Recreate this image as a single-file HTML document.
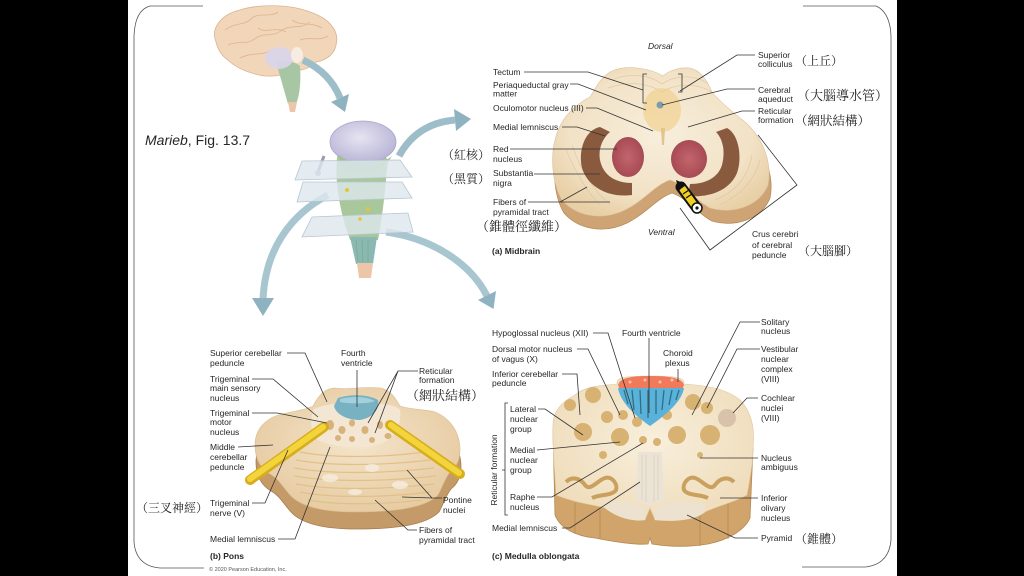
<!DOCTYPE html>
<html><head><meta charset="utf-8">
<style>
html,body{margin:0;padding:0;background:#000;}
svg{display:block;}
.l{font-family:"Liberation Sans",Arial,sans-serif;font-size:8.5px;fill:#262626;}
.b{font-weight:bold;}
.i{font-style:italic;}
.c{font-family:"Liberation Serif","Noto Serif CJK SC","Noto Sans CJK TC",serif;fill:#222;}
.ld{fill:none;stroke:#333;stroke-width:0.8;}
</style></head>
<body>
<svg width="1024" height="576" viewBox="0 0 1024 576" xmlns="http://www.w3.org/2000/svg">
<defs>
<radialGradient id="mb" cx="50%" cy="45%" r="60%"><stop offset="0" stop-color="#f7eedc"/><stop offset="0.7" stop-color="#f2e2c6"/><stop offset="1" stop-color="#e8cfa6"/></radialGradient>
<radialGradient id="pn" cx="50%" cy="45%" r="60%"><stop offset="0" stop-color="#f4e4ca"/><stop offset="1" stop-color="#e6caa0"/></radialGradient>
<radialGradient id="md" cx="50%" cy="45%" r="60%"><stop offset="0" stop-color="#f8efdc"/><stop offset="1" stop-color="#efdcba"/></radialGradient>
<radialGradient id="rn" cx="50%" cy="50%" r="50%"><stop offset="0" stop-color="#c4656c"/><stop offset="1" stop-color="#a64a54"/></radialGradient>
<radialGradient id="th" cx="45%" cy="40%" r="60%"><stop offset="0" stop-color="#e6e4f2"/><stop offset="1" stop-color="#b9b5d6"/></radialGradient>
</defs>
<rect width="1024" height="576" fill="#000"/>
<rect x="128" y="0" width="769" height="576" fill="#fff"/>

<!-- frame -->
<path class="ld" style="stroke:#555" d="M203,6 L150,6 Q135,10 134,36 L134,542 Q136,566 160,568 L204,568"/>
<path class="ld" style="stroke:#555" d="M803,6 L876,6 Q890,12 891,36 L891,540 Q889,564 866,567 L802,567"/>

<!-- top-left brain -->
<path d="M216,42 C210,28 222,14 240,10 C258,4 290,4 310,12 C328,18 340,30 336,45 C334,55 326,60 316,62 C310,68 300,72 292,70 C285,76 268,78 255,74 C240,70 232,64 228,60 C222,56 218,50 216,42 Z" fill="#f1d6b9" stroke="#dcb38e" stroke-width="0.8"/>
<g fill="none" stroke="#dfb48e" stroke-width="0.8">
<path d="M225,30 C235,22 245,26 252,18 C260,12 270,18 278,12"/>
<path d="M228,45 C238,40 246,46 256,38 C264,32 272,38 282,30 C292,24 300,30 310,22"/>
<path d="M240,58 C252,52 262,56 272,50"/>
<path d="M300,40 C310,36 318,42 328,36"/>
<path d="M292,20 C300,26 312,22 322,28"/>
<path d="M258,28 C266,34 276,26 286,32"/>
</g>
<path d="M276,62 C285,60 296,62 300,66 C301,80 300,95 296,104 L288,104 C284,90 280,76 276,62 Z" fill="#a9c6a4"/>
<path d="M288,102 L297,102 L295,112 L290,112 Z" fill="#ecc6aa"/>
<ellipse cx="279" cy="58" rx="14" ry="11" fill="#d9d5ec" opacity="0.9"/>
<ellipse cx="297" cy="55" rx="6" ry="8" fill="#f6ece2"/>

<!-- arrows -->
<g fill="none" stroke="#9dbdc9" stroke-width="7">
<path d="M303,60 C320,68 333,80 340,98"/>
<path d="M399,156 C412,132 432,122 455,120"/>
<path d="M328,195 C290,215 265,250 263,300" stroke="#a8c6d0"/>
<path d="M386,232 C430,238 470,262 487,296" stroke="#a8c6d0"/>
</g>
<g fill="#8fb2c0">
<polygon points="345,112 331,102 349,94"/>
<polygon points="471,119 454,109 456,131"/>
<polygon points="263,316 252,298 274,298"/>
<polygon points="493.5,309 478,300 496,291"/>
</g>

<!-- brainstem illustration -->
<path d="M338,150 C334,175 338,200 345,225 L350,240 L378,240 C383,215 385,190 388,160 L380,150 Z" fill="#a8c89c"/>
<path d="M350,237 L377,237 L373,264 L356,264 Z" fill="#8ab8b2"/>
<path d="M357,263 L373,263 L371,278 L359,278 Z" fill="#edc6aa"/>
<g stroke="#7fa88a" stroke-width="0.7" fill="none"><path d="M356,240 L358,262 M362,240 L363,262 M368,240 L368,262"/></g>
<ellipse cx="363" cy="142" rx="33" ry="21" fill="url(#th)" stroke="#aaa6cc" stroke-width="0.8"/>
<path d="M340,155 C350,168 375,170 392,156 L388,162 C375,176 350,176 340,165 Z" fill="#9fc08f"/>
<rect x="344" y="163" width="30" height="10" fill="#a5c394"/>
<line x1="324" y1="156" x2="318" y2="172" stroke="#9a9aae" stroke-width="3"/>
<circle cx="318" cy="173" r="3" fill="#b0b0c0"/>
<polygon points="302,161 400,160 412,177 295,180" fill="#dde7ee" fill-opacity="0.8" stroke="#b6c6d0" stroke-width="0.8"/>
<polygon points="303,182 402,182 412,198 297,202" fill="#dde7ee" fill-opacity="0.8" stroke="#b6c6d0" stroke-width="0.8"/>
<polygon points="312,217 408,213 413,232 302,237" fill="#dde7ee" fill-opacity="0.8" stroke="#b6c6d0" stroke-width="0.8"/>
<g fill="#e8c23a"><circle cx="347" cy="190" r="2"/><circle cx="368" cy="209" r="2"/><circle cx="360" cy="219" r="1.8"/></g>

<text class="l" x="145" y="145" style="font-size:14px">
<tspan class="i">Marieb</tspan>, Fig. 13.7</text>

<!-- ===== MIDBRAIN ===== -->
<g transform="translate(2,13)">
<path d="M663,76 C650,68 625,64 610,72 C598,80 595,90 590,97 C575,105 560,118 555,140 C550,160 553,185 562,200 C575,215 600,222 625,210 C645,200 655,185 670,180 C685,185 695,200 710,208 C735,215 760,205 768,185 C772,165 765,140 745,122 C730,110 718,100 712,92 C707,80 700,70 690,68 C680,67 670,70 663,76 Z" fill="#cfa474" stroke="#b88c58" stroke-width="0.8"/>
</g>
<path d="M663,76 C650,68 625,64 610,72 C598,80 595,90 590,97 C575,105 560,118 555,140 C550,160 553,185 562,200 C575,215 600,222 625,210 C645,200 655,185 670,180 C685,185 695,200 710,208 C735,215 760,205 768,185 C772,165 765,140 745,122 C730,110 718,100 712,92 C707,80 700,70 690,68 C680,67 670,70 663,76 Z" fill="url(#mb)" stroke="#dcc09a" stroke-width="0.6"/>
<g fill="none" stroke="#e2cba6" stroke-width="0.8">
<path d="M612,80 C630,72 650,75 662,84 C675,75 695,74 708,84"/>
<path d="M608,88 C630,80 650,84 662,92 C675,84 695,82 712,92"/>
<path d="M566,150 C575,170 585,190 600,205"/><path d="M572,145 C580,168 592,190 610,204"/>
<path d="M760,160 C755,180 740,195 720,205"/><path d="M752,155 C748,178 735,192 715,200"/>
</g>
<ellipse cx="662" cy="110" rx="19" ry="22" fill="#efcf8a" opacity="0.65"/>
<circle cx="660" cy="105" r="3.5" fill="#7f9cab"/>
<path d="M661,128 L665,128 L664,145 L662,145 Z" fill="#e3c489"/>
<path d="M600,127 C585,130 578,150 582,168 C588,188 610,198 632,195 L632,183 C615,183 603,175 600,160 C598,148 603,138 610,132 Z" fill="#8a5a3e"/>
<path d="M727,128 C740,135 742,160 737,173 C730,190 710,198 688,196 L690,184 C705,184 718,178 722,165 C726,150 722,138 716,132 Z" fill="#8a5a3e"/>
<ellipse cx="628" cy="157" rx="16" ry="20" fill="url(#rn)"/>
<ellipse cx="689" cy="159" rx="18" ry="19" fill="url(#rn)"/>
<!-- pencil -->
<line x1="681" y1="187" x2="696" y2="207" stroke="#111" stroke-width="11" stroke-linecap="round"/>
<line x1="682" y1="188" x2="695" y2="206" stroke="#f0d020" stroke-width="7"/>
<g stroke="#111" stroke-width="1.2"><line x1="683" y1="194" x2="689" y2="190"/><line x1="686" y1="198" x2="692" y2="194"/></g>
<circle cx="697" cy="208" r="5" fill="#fff" stroke="#111" stroke-width="1.5"/>
<circle cx="697" cy="208" r="1.6" fill="#111"/>
<polygon points="676,180 685,184 679,191" fill="#111"/>
<!-- brackets -->
<path class="ld" d="M647,74 L643,74 L643,103 L647,103"/>
<path class="ld" d="M678,74 L682,74 L682,92 L678,92"/>
<path class="ld" d="M758,135 L797,185 L710,250 L680,208"/>

<text class="l i" x="648" y="49">Dorsal</text>
<text class="l i" x="648" y="235">Ventral</text>
<text class="l" x="493" y="75">Tectum</text>
<text class="l" x="493" y="88">Periaqueductal gray</text>
<text class="l" x="493" y="96.5">matter</text>
<text class="l" x="493" y="111">Oculomotor nucleus (III)</text>
<text class="l" x="493" y="130">Medial lemniscus</text>
<text class="l" x="493" y="152">Red</text>
<text class="l" x="493" y="162">nucleus</text>
<text class="l" x="493" y="176">Substantia</text>
<text class="l" x="493" y="186">nigra</text>
<text class="l" x="493" y="205">Fibers of</text>
<text class="l" x="493" y="215">pyramidal tract</text>
<text class="l b" x="492" y="254">(a) Midbrain</text>
<text class="c" x="442" y="159" style="font-size:12px">（紅核）</text>
<text class="c" x="442" y="183" style="font-size:12px">（黑質）</text>
<text class="c" x="476" y="231" style="font-size:13px">（錐體徑纖維）</text>
<path class="ld" d="M524,72 L588,72 L643,90"/>
<path class="ld" d="M570,84 L578,84 L646,110"/>
<path class="ld" d="M586,108 L597,108 L653,131"/>
<path class="ld" d="M562,127 L577,127 L605,136"/>
<path class="ld" d="M510,149 L617,149"/>
<path class="ld" d="M534,174 L600,174"/>
<path class="ld" d="M528,202 L610,202 M560,202 L587,187"/>

<text class="l" x="758" y="58">Superior</text>
<text class="l" x="758" y="67">colliculus</text>
<text class="l" x="758" y="93">Cerebral</text>
<text class="l" x="758" y="102">aqueduct</text>
<text class="l" x="758" y="114">Reticular</text>
<text class="l" x="758" y="123">formation</text>
<text class="l" x="752" y="237">Crus cerebri</text>
<text class="l" x="752" y="248">of cerebral</text>
<text class="l" x="752" y="258">peduncle</text>
<text class="c" x="795" y="65" style="font-size:12px">（上丘）</text>
<text class="c" x="797" y="100" style="font-size:13px">（大腦導水管）</text>
<text class="c" x="795" y="125" style="font-size:12.5px">（網狀結構）</text>
<text class="c" x="798" y="255" style="font-size:12px">（大腦腳）</text>
<path class="ld" d="M755,55 L737,55 L680,91"/>
<path class="ld" d="M755,89 L727,89 L662,105"/>
<path class="ld" d="M755,111 L742,111 L688,127"/>

<!-- ===== PONS ===== -->
<g transform="translate(1,17)">
<path d="M255,445 C255,430 265,418 282,414 C295,411 305,410 313,406 C318,396 325,388 335,388 C350,390 365,386 380,388 C392,390 396,400 400,406 C412,410 425,409 435,412 C450,418 460,432 460,450 C460,462 455,468 450,472 C445,478 442,488 438,495 C425,508 395,512 355,512 C320,512 300,506 290,495 C282,486 278,478 270,474 C260,468 255,458 255,445 Z" fill="#c49a68" stroke="#a87e50" stroke-width="0.8"/>
</g>
<path d="M255,445 C255,430 265,418 282,414 C295,411 305,410 313,406 C318,396 325,388 335,388 C350,390 365,386 380,388 C392,390 396,400 400,406 C412,410 425,409 435,412 C450,418 460,432 460,450 C460,462 455,468 450,472 C445,478 442,488 438,495 C425,508 395,512 355,512 C320,512 300,506 290,495 C282,486 278,478 270,474 C260,468 255,458 255,445 Z" fill="url(#pn)" stroke="#d8bb90" stroke-width="0.6"/>
<g fill="none" stroke="#e2c187" stroke-width="1.2">
<path d="M300,452 C330,458 380,458 425,452"/><path d="M296,460 C330,466 380,466 430,460"/>
<path d="M294,468 C330,474 380,474 434,468"/><path d="M294,476 C330,482 380,482 436,476"/>
<path d="M296,484 C330,490 380,490 434,484"/><path d="M300,492 C330,498 380,498 430,492"/>
<path d="M308,500 C335,505 380,505 422,500"/>
</g>
<g fill="#f6ede0" opacity="0.8"><ellipse cx="330" cy="478" rx="8" ry="4"/><ellipse cx="372" cy="468" rx="7" ry="4"/><ellipse cx="400" cy="485" rx="8" ry="4"/><ellipse cx="355" cy="492" rx="7" ry="3"/></g>
<path d="M313,410 C325,400 395,400 400,410 C402,425 395,438 380,444 C360,450 335,448 318,440 C310,432 310,420 313,410 Z" fill="#f3e6d2"/>
<g fill="#d7b27a"><ellipse cx="330" cy="425" rx="4" ry="5"/><ellipse cx="342" cy="430" rx="3.5" ry="4"/><ellipse cx="352" cy="423" rx="3" ry="3.5"/><ellipse cx="338" cy="438" rx="3" ry="3"/><ellipse cx="365" cy="430" rx="3.5" ry="4"/><ellipse cx="380" cy="425" rx="3" ry="4"/><ellipse cx="388" cy="436" rx="3.5" ry="3"/><ellipse cx="372" cy="440" rx="3" ry="3"/><ellipse cx="352" cy="439" rx="3" ry="3"/></g>
<path d="M338,398 C350,394 368,394 378,400 C380,410 372,418 360,420 C348,420 336,415 334,406 Z" fill="#78b2c2"/>
<path d="M340,399 C352,396 366,396 375,401 C368,404 350,404 340,402 Z" fill="#a2d0dc"/>
<g stroke-linecap="round">
<line x1="250" y1="480" x2="324" y2="427" stroke="#d6ad1c" stroke-width="10"/>
<line x1="250" y1="479" x2="323" y2="427" stroke="#f3d43a" stroke-width="6"/>
<line x1="390" y1="425" x2="460" y2="474" stroke="#d6ad1c" stroke-width="10"/>
<line x1="391" y1="425" x2="459" y2="473" stroke="#f3d43a" stroke-width="6"/>
</g>

<text class="l" x="210" y="356">Superior cerebellar</text>
<text class="l" x="210" y="366">peduncle</text>
<text class="l" x="210" y="382">Trigeminal</text>
<text class="l" x="210" y="391">main sensory</text>
<text class="l" x="210" y="401">nucleus</text>
<text class="l" x="210" y="416">Trigeminal</text>
<text class="l" x="210" y="425">motor</text>
<text class="l" x="210" y="435">nucleus</text>
<text class="l" x="210" y="450">Middle</text>
<text class="l" x="210" y="460">cerebellar</text>
<text class="l" x="210" y="470">peduncle</text>
<text class="l" x="210" y="506">Trigeminal</text>
<text class="l" x="210" y="516">nerve (V)</text>
<text class="l" x="210" y="542">Medial lemniscus</text>
<text class="l b" x="210" y="559">(b) Pons</text>
<text class="l" x="209" y="571" style="font-size:5.5px;fill:#555">© 2020 Pearson Education, Inc.</text>
<text class="c" x="136" y="512" style="font-size:12px">（三叉神經）</text>
<text class="l" x="341" y="356">Fourth</text>
<text class="l" x="341" y="366">ventricle</text>
<text class="l" x="419" y="374">Reticular</text>
<text class="l" x="419" y="383">formation</text>
<text class="c" x="406" y="400" style="font-size:13px">（網狀結構）</text>
<text class="l" x="443" y="503">Pontine</text>
<text class="l" x="443" y="513">nuclei</text>
<text class="l" x="419" y="533">Fibers of</text>
<text class="l" x="419" y="543">pyramidal tract</text>
<path class="ld" d="M287,353 L305,353 L327,402"/>
<path class="ld" d="M357,370 L357,407"/>
<path class="ld" d="M252,379 L273,379 L318,417"/>
<path class="ld" d="M252,413 L277,413 L327,423"/>
<path class="ld" d="M238,447 L273,445"/>
<path class="ld" d="M252,503 L265,503 L288,450"/>
<path class="ld" d="M278,539 L295,539 L330,447"/>
<path class="ld" d="M418,371 L398,371 L368,423 M398,371 L375,433"/>
<path class="ld" d="M442,498 L432,498 L407,470 M432,498 L402,497"/>
<path class="ld" d="M417,530 L408,530 L375,500"/>

<!-- ===== MEDULLA ===== -->
<path d="M553,430 L555,515 C560,528 575,536 595,538 C615,542 635,545 648,544 L650,538 L652,544 C670,547 690,547 708,544 C728,540 745,530 750,518 L753,448 Z" fill="#d0a46a" stroke="#b58a52" stroke-width="0.8"/>
<g stroke="#b8894f" stroke-width="0.8"><line x1="600" y1="510" x2="600" y2="539"/><line x1="700" y1="514" x2="700" y2="546"/><line x1="575" y1="503" x2="575" y2="533"/><line x1="728" y1="502" x2="728" y2="539"/></g>
<path d="M617,384 C600,386 585,386 575,395 C560,403 553,412 553,425 C552,445 555,470 556,495 C575,503 595,505 605,508 C615,516 630,522 645,520 L650,508 L655,520 C675,522 695,520 705,512 C720,505 735,502 747,495 C750,478 753,462 753,448 C755,430 752,412 740,400 C728,390 712,386 684,384 C684,378 680,376 650,376 C620,376 617,378 617,384 Z" fill="url(#md)" stroke="#e0c8a0" stroke-width="0.6"/>
<path d="M638,452 L662,452 L664,500 L650,506 L636,500 Z" fill="#ebe4d6"/>
<g stroke="#d6cab4" stroke-width="0.7"><line x1="642" y1="455" x2="642" y2="500"/><line x1="646" y1="455" x2="646" y2="502"/><line x1="654" y1="455" x2="654" y2="502"/><line x1="658" y1="455" x2="658" y2="500"/></g>
<path d="M602,504 C615,500 635,502 645,508 L645,520 C630,522 615,516 605,508 Z" fill="#ece2cf"/>
<path d="M655,508 C665,502 690,500 705,504 L705,512 C695,520 675,522 655,520 Z" fill="#ece2cf"/>
<g fill="none" stroke="#c9a05e" stroke-width="4">
<path d="M566,482 C572,476 580,478 585,485 C590,492 598,480 605,478 C612,476 618,484 616,490 C612,496 600,494 592,498"/>
<path d="M734,482 C728,476 720,478 715,485 C710,492 702,480 695,478 C688,476 682,484 684,490 C688,496 700,494 708,498"/>
</g>
<g fill="#d8b272">
<circle cx="583" cy="432" r="9"/><circle cx="620" cy="437" r="9"/><circle cx="607" cy="417" r="6"/><circle cx="623" cy="415" r="5"/><circle cx="637" cy="422" r="5"/><circle cx="593" cy="395" r="8"/><circle cx="570" cy="405" r="6"/><circle cx="643" cy="440" r="4"/><circle cx="657" cy="442" r="4"/><circle cx="603" cy="455" r="4"/>
<circle cx="693" cy="402" r="8"/><circle cx="707" cy="408" r="6"/><circle cx="677" cy="435" r="9"/><circle cx="710" cy="435" r="10"/><circle cx="667" cy="415" r="5"/><circle cx="700" cy="455" r="3"/>
</g>
<circle cx="727" cy="418" r="9" fill="#d9c2aa"/>
<path d="M618,385 C620,378 630,376 650,376 C670,376 682,378 684,385 L681,392 L621,392 Z" fill="#f07a5a"/>
<path d="M618,388 L684,388 C682,400 670,412 650,426 C630,412 620,400 618,388 Z" fill="#5ab2da"/>
<g stroke="#2f6f80" stroke-width="1.3"><line x1="624" y1="390" x2="628" y2="404"/><line x1="632" y1="390" x2="634" y2="410"/><line x1="640" y1="390" x2="641" y2="414"/><line x1="648" y1="390" x2="648" y2="418"/><line x1="656" y1="390" x2="656" y2="414"/><line x1="664" y1="390" x2="662" y2="410"/><line x1="672" y1="390" x2="669" y2="405"/><line x1="679" y1="390" x2="676" y2="400"/></g>
<g fill="#f7c0a8"><circle cx="630" cy="382" r="1.5"/><circle cx="645" cy="380" r="1.5"/><circle cx="660" cy="382" r="1.5"/><circle cx="672" cy="380" r="1.5"/></g>

<text class="l" x="492" y="336">Hypoglossal nucleus (XII)</text>
<text class="l" x="492" y="352">Dorsal motor nucleus</text>
<text class="l" x="492" y="362">of vagus (X)</text>
<text class="l" x="492" y="377">Inferior cerebellar</text>
<text class="l" x="492" y="386">peduncle</text>
<text class="l" x="622" y="336">Fourth ventricle</text>
<text class="l" x="663" y="356">Choroid</text>
<text class="l" x="665" y="366">plexus</text>
<text class="l" transform="translate(497,470) rotate(-90)" text-anchor="middle">Reticular formation</text>
<path class="ld" d="M508,403 L505,403 L505,515 L508,515 M505,470 L502,470"/>
<text class="l" x="510" y="412">Lateral</text>
<text class="l" x="510" y="422">nuclear</text>
<text class="l" x="510" y="432">group</text>
<text class="l" x="510" y="453">Medial</text>
<text class="l" x="510" y="463">nuclear</text>
<text class="l" x="510" y="473">group</text>
<text class="l" x="510" y="500">Raphe</text>
<text class="l" x="510" y="510">nucleus</text>
<text class="l" x="492" y="531">Medial lemniscus</text>
<text class="l b" x="492" y="559">(c) Medulla oblongata</text>
<text class="l" x="761" y="325">Solitary</text>
<text class="l" x="761" y="334">nucleus</text>
<text class="l" x="761" y="352">Vestibular</text>
<text class="l" x="761" y="362">nuclear</text>
<text class="l" x="761" y="372">complex</text>
<text class="l" x="761" y="382">(VIII)</text>
<text class="l" x="761" y="401">Cochlear</text>
<text class="l" x="761" y="411">nuclei</text>
<text class="l" x="761" y="421">(VIII)</text>
<text class="l" x="761" y="461">Nucleus</text>
<text class="l" x="761" y="470">ambiguus</text>
<text class="l" x="761" y="501">Inferior</text>
<text class="l" x="761" y="511">olivary</text>
<text class="l" x="761" y="521">nucleus</text>
<text class="l" x="761" y="541">Pyramid</text>
<text class="c" x="795" y="543" style="font-size:12px">（錐體）</text>
<path class="ld" d="M593,333 L608,333 L635,418"/>
<path class="ld" d="M577,349 L588,349 L620,415"/>
<path class="ld" d="M562,374 L577,374 L580,415"/>
<path class="ld" d="M649,338 L649,413"/>
<path class="ld" d="M678,369 L678,382"/>
<path class="ld" d="M538,409 L545,409 L583,435"/>
<path class="ld" d="M537,450 L620,442"/>
<path class="ld" d="M537,497 L552,497 L643,443"/>
<path class="ld" d="M562,528 L570,528 L640,482"/>
<path class="ld" d="M760,322 L740,322 L692,415"/>
<path class="ld" d="M760,349 L737,349 L707,408"/>
<path class="ld" d="M758,398 L747,398 L733,413"/>
<path class="ld" d="M758,458 L700,458"/>
<path class="ld" d="M758,498 L720,498"/>
<path class="ld" d="M758,538 L735,538 L687,515"/>
</svg>
</body></html>
